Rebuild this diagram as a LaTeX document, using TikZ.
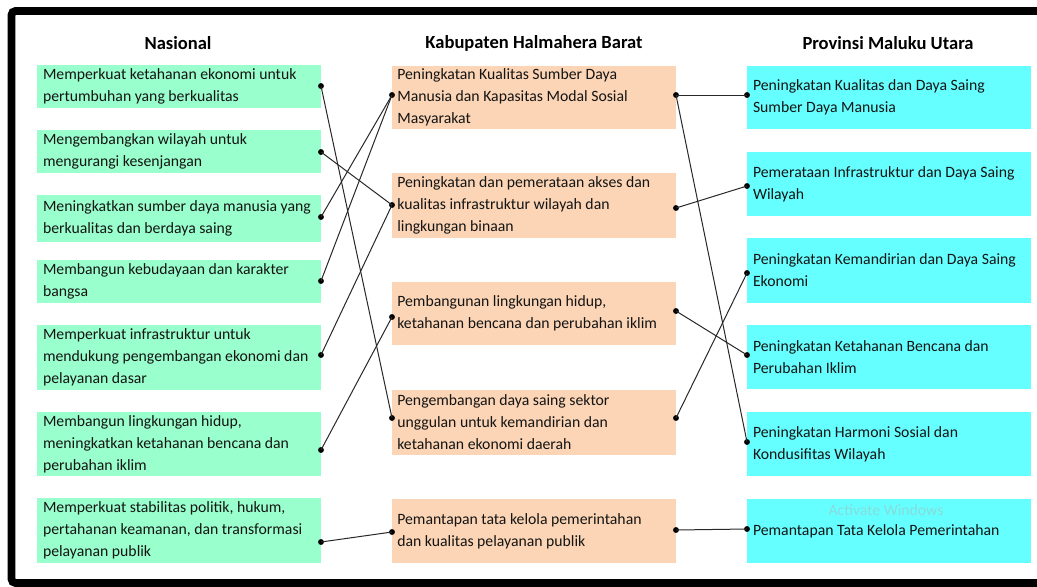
\documentclass[tikz,border=0pt]{standalone}
\usepackage{fontspec}
\setmainfont{Carlito}
\usetikzlibrary{fit}
\definecolor{gfill}{RGB}{153,255,204}
\definecolor{ofill}{RGB}{251,213,181}
\definecolor{cfill}{RGB}{102,255,255}
\definecolor{txtc}{RGB}{20,20,20}
\definecolor{linec}{RGB}{40,40,40}
\begin{document}
\begin{tikzpicture}[x=0.75pt,y=-0.75pt,
  boxg/.style={fill=gfill,draw=none,inner sep=0pt},
  boxo/.style={fill=ofill,draw=none,inner sep=0pt},
  boxc/.style={fill=cfill,draw=none,inner sep=0pt},
  txt/.style={anchor=west,align=left,inner sep=0pt,text=txtc,font=\fontsize{11.8}{16.5}\selectfont},
  ttl/.style={text=black,font=\fontsize{13.9}{16}\selectfont\bfseries,inner sep=0pt},
  dot/.style={circle,fill=black,inner sep=0pt,minimum size=4.4pt},
  conn/.style={draw=linec,line width=0.75pt}]
\useasboundingbox (0,0) rectangle (1037,586);
\clip (0,0) rectangle (1037,586);
\fill[white] (0,0) rectangle (1037,586);
% frame (left, top and bottom sides; the right side lies outside the picture)
\draw[line width=5.8pt,rounded corners=3pt] (1045,11) -- (11.5,11) -- (11.5,583) -- (1045,583);

% titles
\node[ttl] (tn) at (178,43) {Nasional};
\node[ttl] (tk) at (534,43) {Kabupaten Halmahera Barat};
\node[ttl] (tp) at (888,43) {Provinsi Maluku Utara};

% Nasional boxes
\node[boxg,fit={(37,65)(321,108)}] (n1) {};
\node[boxg,fit={(37,130)(321,173)}] (n2) {};
\node[boxg,fit={(37,195)(321,242)}] (n3) {};
\node[boxg,fit={(37,260)(321,303)}] (n4) {};
\node[boxg,fit={(37,325)(321,390)}] (n5) {};
\node[boxg,fit={(37,412)(321,476)}] (n6) {};
\node[boxg,fit={(37,498)(321,563)}] (n7) {};
\node[txt] (n1t) at ([xshift=4.5pt]n1.west) {Memperkuat ketahanan ekonomi untuk\\pertumbuhan yang berkualitas};
\node[txt] (n2t) at ([xshift=4.5pt]n2.west) {Mengembangkan wilayah untuk\\mengurangi kesenjangan};
\node[txt] (n3t) at ([xshift=4.5pt]n3.west) {Meningkatkan sumber daya manusia yang\\berkualitas dan berdaya saing};
\node[txt] (n4t) at ([xshift=4.5pt]n4.west) {Membangun kebudayaan dan karakter\\bangsa};
\node[txt] (n5t) at ([xshift=4.5pt]n5.west) {Memperkuat infrastruktur untuk\\mendukung pengembangan ekonomi dan\\pelayanan dasar};
\node[txt] (n6t) at ([xshift=4.5pt]n6.west) {Membangun lingkungan hidup,\\meningkatkan ketahanan bencana dan\\perubahan iklim};
\node[txt] (n7t) at ([xshift=4.5pt]n7.west) {Memperkuat stabilitas politik, hukum,\\pertahanan keamanan, dan transformasi\\pelayanan publik};

% Kabupaten boxes
\node[boxo,fit={(392,66)(676,129)}] (k1) {};
\node[boxo,fit={(392,173)(676,238)}] (k2) {};
\node[boxo,fit={(392,282)(676,345)}] (k3) {};
\node[boxo,fit={(392,390)(676,455)}] (k4) {};
\node[boxo,fit={(392,499)(676,563)}] (k5) {};
\node[txt] (k1t) at ([xshift=4pt]k1.west) {Peningkatan Kualitas Sumber Daya\\Manusia dan Kapasitas Modal Sosial\\Masyarakat};
\node[txt] (k2t) at ([xshift=4pt]k2.west) {Peningkatan dan pemerataan akses dan\\kualitas infrastruktur wilayah dan\\lingkungan binaan};
\node[txt] (k3t) at ([xshift=4pt]k3.west) {Pembangunan lingkungan hidup,\\ketahanan bencana dan perubahan iklim};
\node[txt] (k4t) at ([xshift=4pt]k4.west) {Pengembangan daya saing sektor\\unggulan untuk kemandirian dan\\ketahanan ekonomi daerah};
\node[txt] (k5t) at ([xshift=4pt]k5.west) {Pemantapan tata kelola pemerintahan\\dan kualitas pelayanan publik};

% Provinsi boxes
\node[boxc,fit={(747,66)(1031,129)}] (p1) {};
\node[boxc,fit={(747,152)(1031,216)}] (p2) {};
\node[boxc,fit={(747,238)(1031,303)}] (p3) {};
\node[boxc,fit={(747,325)(1031,389)}] (p4) {};
\node[boxc,fit={(747,412)(1031,476)}] (p5) {};
\node[boxc,fit={(747,499)(1031,563)}] (p6) {};
\node[txt] (p1t) at ([xshift=4.5pt]p1.west) {Peningkatan Kualitas dan Daya Saing\\Sumber Daya Manusia};
\node[txt] (p2t) at ([xshift=4.5pt]p2.west) {Pemerataan Infrastruktur dan Daya Saing\\Wilayah};
\node[txt] (p3t) at ([xshift=4.5pt]p3.west) {Peningkatan Kemandirian dan Daya Saing\\Ekonomi};
\node[txt] (p4t) at ([xshift=4.5pt]p4.west) {Peningkatan Ketahanan Bencana dan\\Perubahan Iklim};
\node[txt] (p5t) at ([xshift=4.5pt]p5.west) {Peningkatan Harmoni Sosial dan\\Kondusifitas Wilayah};
\node[txt] (p6t) at ([xshift=4.5pt]p6.west) {Pemantapan Tata Kelola Pemerintahan};

% watermark
\node[text=black!20!cfill!70!white,font=\fontsize{11.8}{14}\selectfont,inner sep=0pt] (wm) at (886,510) {Activate Windows};

% dots
\node[dot] (n1d) at (321,86) {};
\node[dot] (n2d) at (321,152) {};
\node[dot] (n3d) at (321,217) {};
\node[dot] (n4d) at (321,281) {};
\node[dot] (n5d) at (321,355) {};
\node[dot] (n6d) at (321,450) {};
\node[dot] (n7d) at (321,542) {};
\node[dot] (k1l) at (392,95) {};
\node[dot] (k2l) at (392,205) {};
\node[dot] (k3l) at (392,317) {};
\node[dot] (k4l) at (392,418) {};
\node[dot] (k5l) at (392,532) {};
\node[dot] (k1r) at (676,95) {};
\node[dot] (k2r) at (676,208) {};
\node[dot] (k3r) at (676,311) {};
\node[dot] (k4r) at (676,418) {};
\node[dot] (k5r) at (676,530) {};
\node[dot] (p1d) at (747,95) {};
\node[dot] (p2d) at (747,186) {};
\node[dot] (p3d) at (747,273) {};
\node[dot] (p4d) at (747,355) {};
\node[dot] (p5d) at (747,442) {};
\node[dot] (p6d) at (747,529) {};

% connectors
\draw[conn] (n1d.center) -- (k4l.center);
\draw[conn] (n2d.center) -- (k2l.center);
\draw[conn] (n3d.center) -- (k1l.center);
\draw[conn] (n4d.center) -- (k1l.center);
\draw[conn] (n5d.center) -- (k2l.center);
\draw[conn] (n6d.center) -- (k3l.center);
\draw[conn] (n7d.center) -- (k5l.center);
\draw[conn] (k1r.center) -- (p1d.center);
\draw[conn] (k1r.center) -- (p5d.center);
\draw[conn] (k2r.center) -- (p2d.center);
\draw[conn] (k3r.center) -- (p4d.center);
\draw[conn] (k4r.center) -- (p3d.center);
\draw[conn] (k5r.center) -- (p6d.center);
\end{tikzpicture}
\end{document}
